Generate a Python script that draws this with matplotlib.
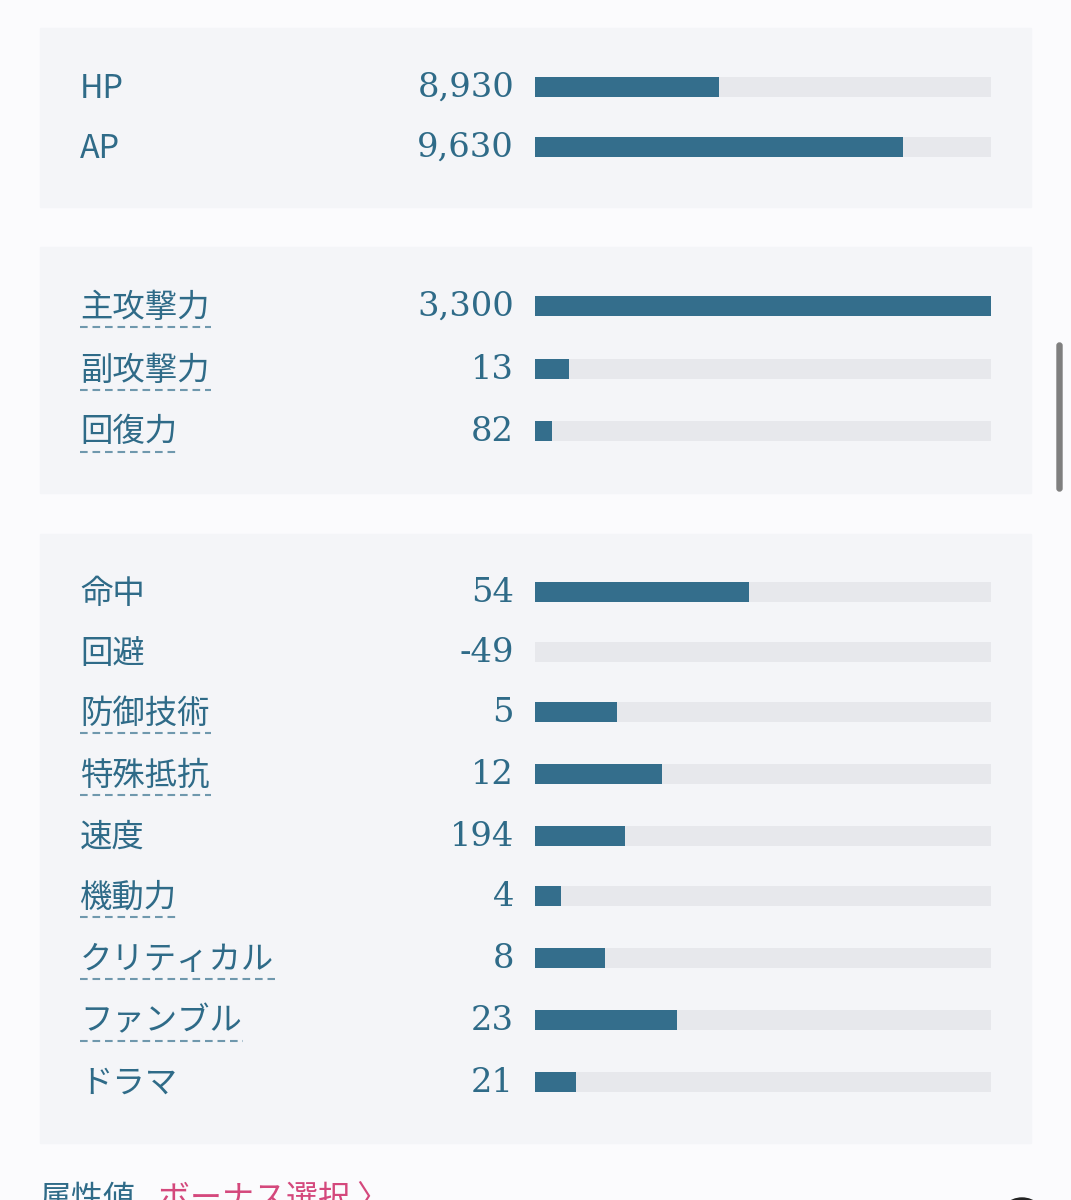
"""
Character stat sheet: three panels of labelled horizontal bars.
"""

import matplotlib.pyplot as plt
from matplotlib.patches import Rectangle, FancyBboxPatch, Circle

plt.rcParams["lines.scale_dashes"] = False

# --- data -----------------------------------------------------------------
GROUP1_LABELS = ["HP", "AP"]
GROUP1_VALUES = ["8,930", "9,630"]
GROUP1_FILL = [0.404, 0.807]

GROUP2_LABELS = ["主攻撃力", "副攻撃力", "回復力"]
GROUP2_VALUES = ["3,300", "13", "82"]
GROUP2_FILL = [1.0, 0.075, 0.037]

GROUP3_LABELS = ["命中", "回避", "防御技術", "特殊抵抗", "速度",
                 "機動力", "クリティカル", "ファンブル", "ドラマ"]
GROUP3_VALUES = ["54", "-49", "5", "12", "194", "4", "8", "23", "21"]
GROUP3_FILL = [0.469, 0.0, 0.18, 0.279, 0.197, 0.057, 0.154, 0.311, 0.09]

UNDERLINED = {"主攻撃力", "副攻撃力", "回復力", "防御技術", "特殊抵抗",
              "機動力", "クリティカル", "ファンブル"}

# --- style ----------------------------------------------------------------
PAGE_BG = "#fbfbfd"
PANEL_BG = "#f4f5f8"
TRACK = "#e7e8ec"
BAR = "#346e8c"
TEXT = "#2f6b88"
DASH = "#6f98ad"
PINK = "#d4487c"
CJK = ["Noto Sans CJK JP", "DejaVu Sans"]

W, H = 1071, 1200
TRACK_X, TRACK_W, BAR_H = 535, 456, 20

# panel (top, bottom) and row centres, in pixels
PANELS = [
    (28, 207, [87, 147], GROUP1_LABELS, GROUP1_VALUES, GROUP1_FILL),
    (247, 493, [306, 369, 431], GROUP2_LABELS, GROUP2_VALUES, GROUP2_FILL),
    (534, 1143, [592, 652, 712, 774, 836, 896, 958, 1020, 1082],
     GROUP3_LABELS, GROUP3_VALUES, GROUP3_FILL),
]

fig = plt.figure(figsize=(W / 100, H / 100), dpi=100, facecolor=PAGE_BG)
ax = fig.add_axes([0, 0, 1, 1])
ax.set_xlim(0, W)
ax.set_ylim(H, 0)
ax.axis("off")

label_texts = []
for top, bottom, rows, labels, values, fill in PANELS:
    ax.add_patch(Rectangle((40, top), 991, bottom - top, color=PANEL_BG, zorder=0))
    ax.barh(rows, [TRACK_W] * len(rows), left=TRACK_X, height=BAR_H,
            color=TRACK, zorder=1)
    ax.barh(rows, [f * TRACK_W for f in fill], left=TRACK_X, height=BAR_H,
            color=BAR, zorder=2)
    for y, lab, val in zip(rows, labels, values):
        t = ax.text(80, y + 1.5, lab, fontsize=23.3, family=CJK, color=TEXT,
                    ha="left", va="center")
        label_texts.append((t, lab, y))
        ax.text(514, y + 1, val, fontsize=24.3, family="DejaVu Serif", color=TEXT,
                ha="right", va="center")

# dashed underlines sized to the label text
fig.canvas.draw()
renderer = fig.canvas.get_renderer()
inv = ax.transData.inverted()
for t, lab, y in label_texts:
    if lab not in UNDERLINED:
        continue
    bb = t.get_window_extent(renderer)
    (x0, _), (x1, _) = inv.transform([(bb.x0, bb.y0), (bb.x1, bb.y1)])
    ax.plot([80, x1 + 1], [y + 21, y + 21], color=DASH, lw=1.5,
            dashes=(5.5, 3.5), solid_capstyle="butt", zorder=3)

# scrollbar
ax.add_patch(FancyBboxPatch((1057, 343), 5, 148, boxstyle="round,pad=0,rounding_size=2.5",
                            color="#7f7f7f", zorder=4))

# footer heading, partly below the bottom edge as in the screenshot
ax.text(40, 1199, "属性値", fontsize=23, family=CJK, color=TEXT,
        ha="left", va="center")
ax.text(158, 1199, "ボーナス選択 〉", fontsize=23, family=CJK, color=PINK,
        ha="left", va="center")
ax.add_patch(Circle((1022, 1222), 24, color="#222222", zorder=4))

fig.savefig("out.png", dpi=100, facecolor=PAGE_BG)
